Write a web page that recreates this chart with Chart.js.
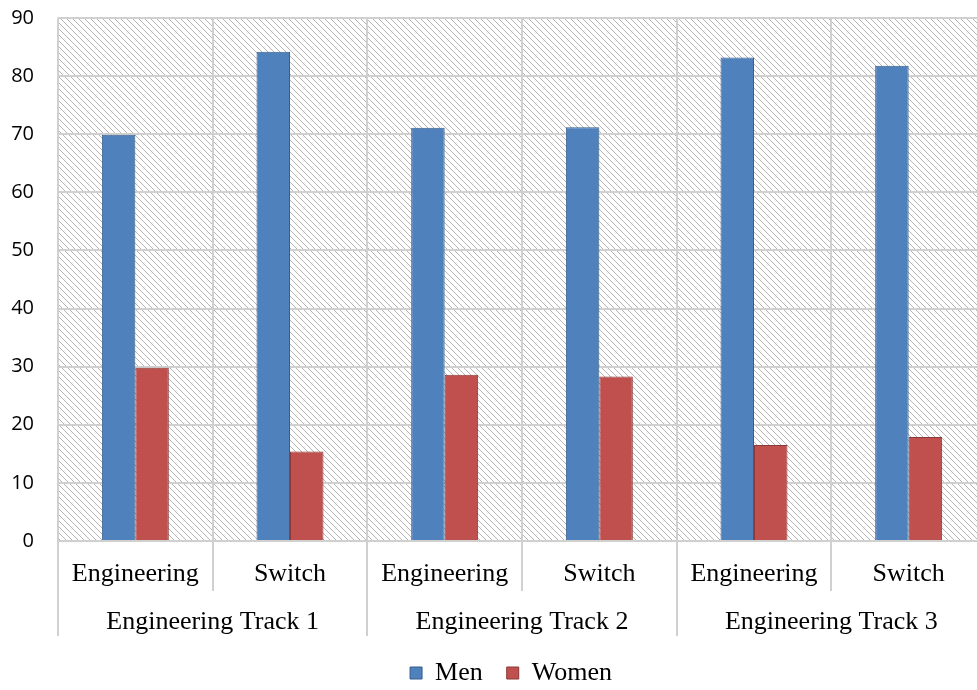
<!DOCTYPE html>
<html>
<head>
<meta charset="utf-8">
<script src="https://cdn.jsdelivr.net/npm/chart.js@4.4.1/dist/chart.umd.min.js"></script>
<style>
  html, body { margin: 0; padding: 0; background: #fff; overflow: hidden; }
  #wrap { width: 990px; height: 690px; position: relative; }
</style>
</head>
<body>
<div id="wrap"><canvas id="chart"></canvas></div>
<script>
const categories = ['Engineering', 'Switch', 'Engineering', 'Switch', 'Engineering', 'Switch'];
const groups = ['Engineering Track 1', 'Engineering Track 2', 'Engineering Track 3'];
const men = [69.9, 84.2, 71.1, 71.2, 83.2, 81.8];
const women = [29.8, 15.4, 28.6, 28.3, 16.5, 17.9];
const yTicks = [0, 10, 20, 30, 40, 50, 60, 70, 80, 90];

const GRID = '#d0d0d0';
const SERIF = "'Liberation Serif', 'Times New Roman', serif";

// diagonal hatch behind the plot area
const hatchBg = {
  id: 'hatchBg',
  beforeDraw(chart) {
    const { ctx, chartArea: a } = chart;
    if (!chart._hatch) {
      const t = document.createElement('canvas');
      t.width = 6; t.height = 6;
      const g = t.getContext('2d');
      g.fillStyle = '#fff';
      g.fillRect(0, 0, 6, 6);
      g.strokeStyle = '#b4b4b4';
      g.lineWidth = 1;
      g.beginPath();
      g.moveTo(-1, -1); g.lineTo(7, 7);
      g.moveTo(-1, 5); g.lineTo(1, 7);
      g.moveTo(5, -1); g.lineTo(7, 1);
      g.stroke();
      chart._hatch = ctx.createPattern(t, 'repeat');
    }
    ctx.save();
    ctx.fillStyle = chart._hatch;
    ctx.fillRect(a.left, a.top, a.right - a.left, a.bottom - a.top);
    ctx.restore();
  }
};

// keep the legend under the plot area (slightly left of its middle)
const legendUnderPlot = {
  id: 'legendUnderPlot',
  afterLayout(chart) {
    const lg = chart.legend;
    if (!lg) return;
    lg.left = chart.chartArea.left;
    lg.right = chart.chartArea.right - 22;
  }
};

new Chart(document.getElementById('chart'), {
  type: 'bar',
  data: {
    labels: categories,
    datasets: [
      { label: 'Men', data: men, backgroundColor: '#4f81bd', borderColor: '#385d8a', borderWidth: 1 },
      { label: 'Women', data: women, backgroundColor: '#c0504d', borderColor: '#8c3836', borderWidth: 1 }
    ]
  },
  options: {
    responsive: true,
    maintainAspectRatio: false,
    animation: false,
    categoryPercentage: 0.433,
    barPercentage: 1.0,
    layout: { padding: { top: 18, right: 4, bottom: -6, left: 0 } },
    plugins: {
      tooltip: { enabled: false },
      legend: {
        position: 'bottom',
        labels: {
          color: '#000',
          font: { family: SERIF, size: 26 },
          boxWidth: 12,
          boxHeight: 12,
          padding: 24
        }
      }
    },
    scales: {
      x: {
        weight: 0,
        offset: true,
        grid: { offset: true, color: GRID, lineWidth: 2, drawTicks: true, tickLength: 50 },
        border: { display: false },
        ticks: { color: '#000', font: { family: SERIF, size: 26 }, padding: -32, maxRotation: 0, autoSkip: false },
        afterFit(scale) { scale.height = 50; }
      },
      xGroup: {
        type: 'category',
        position: 'bottom',
        weight: 1,
        labels: groups,
        offset: true,
        grid: { offset: true, drawOnChartArea: false, color: GRID, lineWidth: 2, tickLength: 45 },
        border: { display: false },
        ticks: { color: '#000', font: { family: SERIF, size: 26 }, padding: -29, maxRotation: 0, autoSkip: false },
        afterFit(scale) { scale.height = 45; }
      },
      y: {
        min: 0,
        max: 90,
        afterBuildTicks(scale) { scale.ticks = yTicks.map(v => ({ value: v })); },
        grid: { color: GRID, lineWidth: 2, drawTicks: false },
        border: { display: false },
        ticks: { color: '#000', font: { family: "'Open Sans', sans-serif", size: 20 }, padding: 24 },
        afterFit(scale) {
          scale.width = 58;
          scale.paddingTop = 0;
          scale.paddingBottom = 0;
        }
      }
    }
  },
  plugins: [hatchBg, legendUnderPlot]
});
</script>
</body>
</html>
